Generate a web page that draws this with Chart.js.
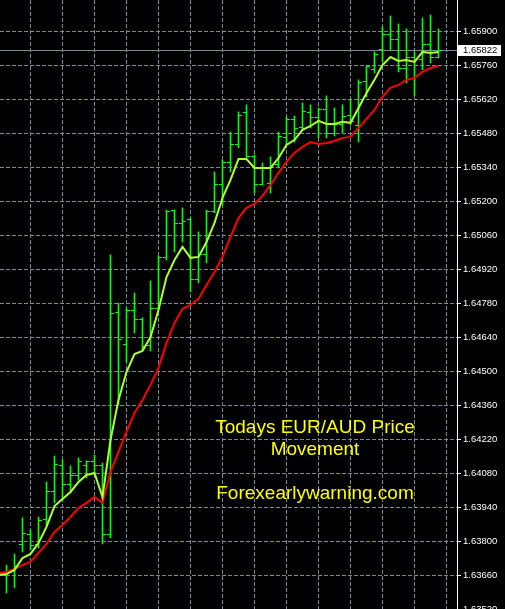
<!DOCTYPE html>
<html>
<head>
<meta charset="utf-8">
<title>EUR/AUD</title>
<script src="https://cdn.jsdelivr.net/npm/chart.js@4.4.1/dist/chart.umd.min.js"></script>
<style>
  html, body { margin: 0; padding: 0; background: #000; }
  canvas { display: block; }
</style>
</head>
<body>
<canvas id="priceChart" width="505" height="609"></canvas>
<script>
// bar numbers (bar -1 sits just off the left edge)
const bars = [-1, 0, 1, 2, 3, 4, 5, 6, 7, 8, 9, 10, 11, 12, 13, 14, 15, 16, 17, 18, 19,
  20, 21, 22, 23, 24, 25, 26, 27, 28, 29, 30, 31, 32, 33, 34, 35, 36, 37, 38, 39,
  40, 41, 42, 43, 44, 45, 46, 47, 48, 49, 50, 51, 52, 53, 54];

const opens = [1.63666, 1.63662, 1.63675, 1.63786, 1.63827, 1.63786, 1.63889, 1.64004, 1.64115, 1.64033,
  1.64070, 1.64115, 1.64128, 1.64111, 1.63827, 1.64741, 1.64613, 1.64753, 1.64716, 1.64609,
  1.64758, 1.64968, 1.65165, 1.65108, 1.65124, 1.64877, 1.64980, 1.65157, 1.65268, 1.65359,
  1.65433, 1.65565, 1.65384, 1.65272, 1.65276, 1.65351, 1.65462, 1.65536, 1.65503, 1.65565,
  1.65544, 1.65577, 1.65482, 1.65519, 1.65556, 1.65515, 1.65696, 1.65742, 1.65824, 1.65886,
  1.65869, 1.65746, 1.65791, 1.65783, 1.65845, 1.65791];
const highs = [1.63691, 1.63703, 1.63749, 1.63897, 1.63848, 1.63901, 1.64045, 1.64152, 1.64136, 1.64111,
  1.64144, 1.64132, 1.64156, 1.64123, 1.64980, 1.64782, 1.64762, 1.64823, 1.64721, 1.64873,
  1.64976, 1.65165, 1.65165, 1.65174, 1.65132, 1.65075, 1.65165, 1.65322, 1.65371, 1.65486,
  1.65569, 1.65598, 1.65392, 1.65359, 1.65384, 1.65486, 1.65548, 1.65552, 1.65606, 1.65598,
  1.65585, 1.65635, 1.65585, 1.65598, 1.65622, 1.65701, 1.65758, 1.65816, 1.65919, 1.65964,
  1.65931, 1.65911, 1.65816, 1.65956, 1.65968, 1.65911];
const lows = [1.63633, 1.63588, 1.63609, 1.63757, 1.63765, 1.63773, 1.63868, 1.63959, 1.63971, 1.64000,
  1.64053, 1.64062, 1.64074, 1.63790, 1.63815, 1.64362, 1.64539, 1.64659, 1.64589, 1.64585,
  1.64753, 1.64959, 1.64992, 1.65033, 1.64828, 1.64865, 1.64947, 1.65153, 1.65186, 1.65322,
  1.65421, 1.65379, 1.65235, 1.65268, 1.65235, 1.65338, 1.65433, 1.65445, 1.65495, 1.65503,
  1.65462, 1.65462, 1.65470, 1.65482, 1.65515, 1.65445, 1.65631, 1.65729, 1.65775, 1.65824,
  1.65734, 1.65688, 1.65635, 1.65742, 1.65771, 1.65791];
const closes = [1.63662, 1.63675, 1.63699, 1.63831, 1.63782, 1.63885, 1.64004, 1.64119, 1.64033, 1.64070,
  1.64128, 1.64128, 1.64111, 1.63827, 1.64737, 1.64630, 1.64753, 1.64716, 1.64601, 1.64758,
  1.64968, 1.65157, 1.65108, 1.65116, 1.64877, 1.64980, 1.65157, 1.65268, 1.65359, 1.65433,
  1.65556, 1.65384, 1.65268, 1.65338, 1.65338, 1.65466, 1.65536, 1.65499, 1.65569, 1.65544,
  1.65577, 1.65482, 1.65519, 1.65552, 1.65528, 1.65692, 1.65754, 1.65804, 1.65886, 1.65865,
  1.65746, 1.65791, 1.65758, 1.65845, 1.65791, 1.65822];

// moving averages (fast = yellow-green, slow = red)
const maFast = [1.63662, 1.63666, 1.63683, 1.63732, 1.63749, 1.63794, 1.63860, 1.63946, 1.63975, 1.64004,
  1.64045, 1.64074, 1.64082, 1.63983, 1.64218, 1.64383, 1.64498, 1.64572, 1.64585, 1.64642,
  1.64753, 1.64889, 1.64959, 1.65013, 1.64968, 1.64972, 1.65033, 1.65112, 1.65215, 1.65289,
  1.65375, 1.65375, 1.65338, 1.65338, 1.65338, 1.65379, 1.65433, 1.65454, 1.65495, 1.65511,
  1.65532, 1.65519, 1.65519, 1.65528, 1.65524, 1.65585, 1.65647, 1.65701, 1.65762, 1.65795,
  1.65779, 1.65783, 1.65775, 1.65816, 1.65812, 1.65816];
const maSlow = [1.63670, 1.63675, 1.63687, 1.63703, 1.63716, 1.63753, 1.63790, 1.63839, 1.63868, 1.63901,
  1.63938, 1.63959, 1.63983, 1.63959, 1.64086, 1.64169, 1.64251, 1.64329, 1.64383, 1.64445,
  1.64515, 1.64618, 1.64700, 1.64758, 1.64774, 1.64799, 1.64856, 1.64910, 1.64972, 1.65054,
  1.65132, 1.65174, 1.65190, 1.65223, 1.65268, 1.65318, 1.65363, 1.65400, 1.65425, 1.65445,
  1.65437, 1.65441, 1.65449, 1.65462, 1.65466, 1.65503, 1.65540, 1.65577, 1.65631, 1.65668,
  1.65680, 1.65701, 1.65709, 1.65734, 1.65750, 1.65758];

// axis ticks
const priceTicks = [1.63520, 1.63660, 1.63800, 1.63940, 1.64080, 1.64220, 1.64360, 1.64500, 1.64640,
  1.64780, 1.64920, 1.65060, 1.65200, 1.65340, 1.65480, 1.65620, 1.65760, 1.65900, 1.66040];
const gridBars = [-1, 3, 7, 11, 15, 19, 23, 27, 31, 35, 39, 43, 47, 51, 55];

const lastPrice = 1.65822;

const barColor = "#00ff00";
const gridColor = "#778899";
const axisFont = { family: "Liberation Sans", size: 9.5 };

// open / close ticks of every bar
const ocTicks = {
  id: "ocTicks",
  afterDatasetDraw(chart, args) {
    if (args.index !== 2) return;
    const ctx = chart.ctx;
    const xs = chart.scales.x, ys = chart.scales.y, a = chart.chartArea;
    ctx.save();
    ctx.beginPath();
    ctx.rect(a.left, a.top, a.right - a.left, a.bottom - a.top);
    ctx.clip();
    ctx.fillStyle = barColor;
    bars.forEach((b, i) => {
      const col = Math.round(xs.getPixelForValue(b) - 0.5);
      ctx.fillRect(col - 3, Math.round(ys.getPixelForValue(opens[i]) - 0.5), 3, 1);
      ctx.fillRect(col + 1, Math.round(ys.getPixelForValue(closes[i]) - 0.5), 3, 1);
    });
    ctx.restore();
  }
};

// bid line, price box and the caption
const extras = {
  id: "extras",
  beforeDatasetsDraw(chart) {
    const ctx = chart.ctx, a = chart.chartArea;
    const y = Math.round(chart.scales.y.getPixelForValue(lastPrice) - 0.5) + 0.5;
    ctx.save();
    ctx.strokeStyle = gridColor;
    ctx.lineWidth = 1;
    ctx.beginPath();
    ctx.moveTo(a.left, y);
    ctx.lineTo(a.right, y);
    ctx.stroke();
    ctx.restore();
  },
  afterDraw(chart) {
    const ctx = chart.ctx, a = chart.chartArea;
    const xs = chart.scales.x, ys = chart.scales.y;
    const y = Math.round(ys.getPixelForValue(lastPrice));
    ctx.save();
    ctx.fillStyle = "#ffffff";
    ctx.fillRect(a.right + 1, y - 5, 43, 11);
    ctx.fillStyle = "#000000";
    ctx.font = axisFont.size + "px " + axisFont.family;
    ctx.textBaseline = "middle";
    ctx.textAlign = "left";
    ctx.fillText(lastPrice.toFixed(5), a.right + 6, y + 0.5);

    ctx.fillStyle = "#ffff00";
    ctx.font = "19px 'Liberation Sans'";
    ctx.textAlign = "center";
    ctx.textBaseline = "alphabetic";
    const cx = xs.getPixelForValue(38.56);
    ctx.fillText("Todays EUR/AUD Price", cx, ys.getPixelForValue(1.64247));
    ctx.fillText("Movement", cx, ys.getPixelForValue(1.64156));
    ctx.fillText("Forexearlywarning.com", cx, ys.getPixelForValue(1.63975));
    ctx.restore();
  }
};

new Chart(document.getElementById("priceChart"), {
  type: "line",
  data: {
    datasets: [
      {
        label: "fast MA",
        data: bars.map((b, i) => ({ x: b, y: maFast[i] })),
        borderColor: "#adff2f",
        borderWidth: 2,
        pointRadius: 0,
        tension: 0,
        fill: false
      },
      {
        label: "slow MA",
        data: bars.map((b, i) => ({ x: b, y: maSlow[i] })),
        borderColor: "#ff0000",
        borderWidth: 2,
        pointRadius: 0,
        tension: 0,
        fill: false
      },
      {
        type: "bar",
        label: "EURAUD",
        data: bars.map((b, i) => ({ x: b, y: [lows[i], highs[i]] })),
        backgroundColor: barColor,
        borderWidth: 0,
        barThickness: 1,
        grouped: false
      }
    ]
  },
  options: {
    responsive: false,
    animation: false,
    events: [],
    layout: { padding: 0 },
    plugins: { legend: { display: false }, tooltip: { enabled: false } },
    scales: {
      x: {
        type: "linear",
        min: -0.8125,
        max: 56.3125,
        offset: false,
        grid: { color: gridColor, offset: false, drawTicks: false },
        border: { display: false, dash: [4, 2] },
        ticks: { display: false },
        afterBuildTicks: s => { s.ticks = gridBars.map(v => ({ value: v })); },
        afterFit: s => { s.height = 0; s.paddingLeft = 0; s.paddingRight = 0; }
      },
      y: {
        type: "linear",
        position: "right",
        min: 1.635221,
        max: 1.660297,
        bounds: "data",
        grid: { color: gridColor, tickColor: "#ffffff", tickLength: 4, tickBorderDash: [] },
        border: { display: true, color: "#ffffff", width: 1, dash: [4, 2] },
        ticks: {
          color: "#ffffff",
          font: axisFont,
          padding: 2,
          autoSkip: false,
          callback: v => v.toFixed(5)
        },
        afterBuildTicks: s => { s.ticks = priceTicks.map(v => ({ value: v })); },
        afterFit: s => { s.width = 48; s.paddingTop = 0; s.paddingBottom = 0; }
      }
    }
  },
  plugins: [ocTicks, extras]
});
</script>
</body>
</html>
